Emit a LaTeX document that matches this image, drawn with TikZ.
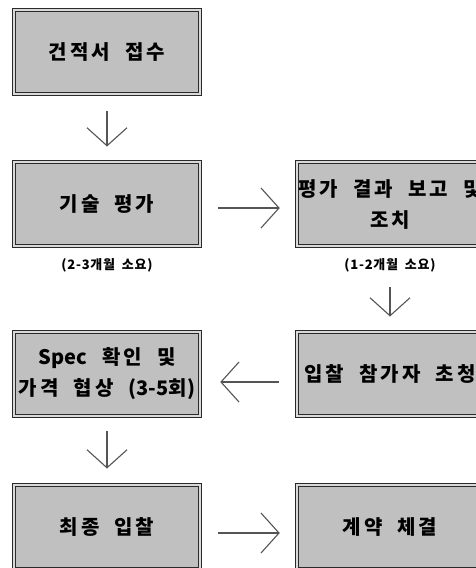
\documentclass[tikz,border=0pt]{standalone}
\usepackage{fontspec}
\newfontfamily\kr{Noto Sans CJK KR}[LetterSpace=15,WordSpace=2.0]
\newfontfamily\krn{Noto Sans CJK KR}[WordSpace=2.0]
\newfontfamily\krl{Noto Sans CJK KR}[LetterSpace=6,WordSpace=1.8]
\usetikzlibrary{arrows.meta}
\definecolor{boxfill}{HTML}{C0C0C0}
\definecolor{boxline}{HTML}{2A2A2A}
\definecolor{arrowcol}{HTML}{555555}
\tikzset{
  stepbox/.style={draw=boxline, line width=1pt, double=boxfill!60!white, double distance=2.2pt,
    fill=boxfill, minimum width=185.5pt, minimum height=84pt, inner sep=0pt,
    align=center, font=\kr\bfseries\fontsize{20}{31}\selectfont},
  notelabel/.style={inner sep=0pt, font=\krl\bfseries\fontsize{13}{15}\selectfont},
  flow/.style={draw=arrowcol, line width=1.1pt, -{Straight Barb[length=18pt,width=40pt,line width=1.1pt]}}
}
\begin{document}
\begin{tikzpicture}[x=1pt,y=-1pt]
\useasboundingbox (0,0) rectangle (476,568);
\clip (0,0) rectangle (476,568);
\fill[white] (0,0) rectangle (476,568);
\node[stepbox] (b1) at (107,52) {건적서 접수};
\node[stepbox] (b2) at (107,204) {기술 평가};
\node[stepbox] (b3) at (390,204) {평가 결과 보고 및\\조치};
\node[stepbox] (b4) at (107,374) {{\krn Spec} 확인 및\\가격 협상 {\krn (3-5}회{\krn )}};
\node[stepbox] (b5) at (390,374) {입찰 참가자 초청};
\node[stepbox] (b6) at (107,527) {최종 입찰};
\node[stepbox] (b7) at (390,527) {계약 체결};
\node[notelabel] (n2) at (107,265) {(2-3개월 소요)};
\node[notelabel] (n3) at (390,265) {(1-2개월 소요)};
\draw[flow] ([yshift=-16pt]b1.south) -- ([yshift=15pt]b2.north);
\draw[flow] ([shift={(18,4)}]b2.east) -- ([shift={(-17,4)}]b3.west);
\draw[flow] ([yshift=-15pt]n3.south) -- ([yshift=15pt]b5.north);
\draw[flow] ([shift={(-18,8)}]b5.west) -- ([shift={(20,8)}]b4.east);
\draw[flow] ([yshift=-14pt]b4.south) -- ([yshift=16pt]b6.north);
\draw[flow] ([shift={(18,6)}]b6.east) -- ([shift={(-17,6)}]b7.west);
\end{tikzpicture}
\end{document}
